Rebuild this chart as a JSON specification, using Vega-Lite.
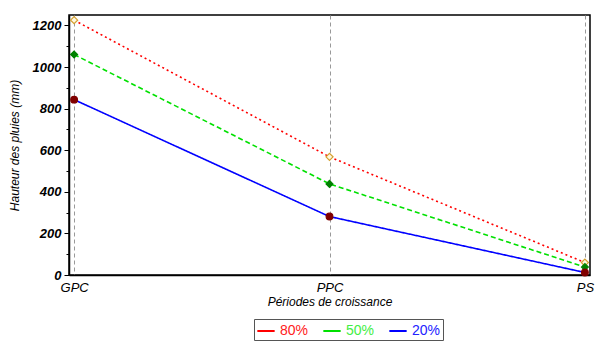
{
  "$schema": "https://vega.github.io/schema/vega-lite/v6.json",
  "width": 521,
  "height": 260,
  "padding": {"left": 8, "top": 14, "right": 17, "bottom": 5},
  "background": "white",
  "config": {
    "view": {"stroke": "black", "strokeWidth": 1.5},
    "font": "Liberation Sans"
  },
  "data": {
    "values": [
      {"periode": "GPC", "freq": "80%", "valeur": 1225},
      {"periode": "PPC", "freq": "80%", "valeur": 568},
      {"periode": "PS", "freq": "80%", "valeur": 60},
      {"periode": "GPC", "freq": "50%", "valeur": 1060},
      {"periode": "PPC", "freq": "50%", "valeur": 438},
      {"periode": "PS", "freq": "50%", "valeur": 38},
      {"periode": "GPC", "freq": "20%", "valeur": 843},
      {"periode": "PPC", "freq": "20%", "valeur": 281},
      {"periode": "PS", "freq": "20%", "valeur": 12}
    ]
  },
  "encoding": {
    "x": {
      "field": "periode",
      "type": "ordinal",
      "sort": ["GPC", "PPC", "PS"],
      "scale": {"type": "point", "padding": 0.02},
      "axis": {
        "title": "Périodes de croissance",
        "titleFontStyle": "italic",
        "titleFontWeight": "normal",
        "titleFontSize": 12,
        "titleColor": "black",
        "titlePadding": 2,
        "labelAngle": 0,
        "labelFontStyle": "italic",
        "labelFontSize": 13,
        "labelColor": "black",
        "labelPadding": 6,
        "domainColor": "black",
        "domainWidth": 1.5,
        "ticks": false,
        "grid": true,
        "gridDash": [4, 3],
        "gridColor": "#999999",
        "gridWidth": 1
      }
    },
    "y": {
      "field": "valeur",
      "type": "quantitative",
      "scale": {"domain": [0, 1250], "nice": false},
      "axis": {
        "title": "Hauteur des pluies (mm)",
        "titleFontStyle": "italic",
        "titleFontWeight": "normal",
        "titleFontSize": 12,
        "titleColor": "black",
        "titlePadding": 11,
        "values": [0, 100, 200, 300, 400, 500, 600, 700, 800, 900, 1000, 1100, 1200],
        "labelExpr": "datum.value % 200 == 0 ? format(datum.value, 'd') : ''",
        "labelFontStyle": "italic",
        "labelFontWeight": "bold",
        "labelFontSize": 13,
        "labelColor": "black",
        "labelPadding": 3,
        "domainColor": "black",
        "domainWidth": 1.5,
        "tickColor": "black",
        "tickSize": {"condition": {"test": "datum.value % 200 == 0", "value": 5}, "value": 3},
        "grid": false
      }
    }
  },
  "layer": [
    {
      "mark": {"type": "line", "strokeWidth": 1.6},
      "encoding": {
        "color": {
          "field": "freq",
          "type": "nominal",
          "scale": {"domain": ["80%", "50%", "20%"], "range": ["#ff0000", "#00e000", "#0000ff"]},
          "legend": {
            "title": null,
            "orient": "none",
            "legendX": 185,
            "legendY": 304,
            "direction": "horizontal",
            "strokeColor": "#555555",
            "padding": 2,
            "fillColor": "white",
            "symbolType": "stroke",
            "symbolSize": 300,
            "symbolStrokeWidth": 2,
            "labelFontSize": 14,
            "columnPadding": 10,
            "encode": {
              "labels": {
                "update": {
                  "fill": {"signal": "datum.value == '80%' ? '#ff2020' : datum.value == '50%' ? '#44ee44' : '#2222ff'"}
                }
              }
            }
          }
        },
        "strokeDash": {
          "field": "freq",
          "type": "nominal",
          "scale": {"domain": ["80%", "50%", "20%"], "range": [[2, 3], [5, 3], [1, 0]]},
          "legend": null
        }
      }
    },
    {
      "mark": {"type": "point", "filled": false, "strokeWidth": 1.2, "opacity": 1},
      "encoding": {
        "shape": {
          "field": "freq",
          "type": "nominal",
          "scale": {"domain": ["80%", "50%", "20%"], "range": ["diamond", "diamond", "circle"]},
          "legend": null
        },
        "stroke": {
          "field": "freq",
          "type": "nominal",
          "scale": {"domain": ["80%", "50%", "20%"], "range": ["#d4a030", "#008000", "#800000"]},
          "legend": null
        },
        "fill": {
          "field": "freq",
          "type": "nominal",
          "scale": {"domain": ["80%", "50%", "20%"], "range": ["#fff8e0", "#008000", "#800000"]},
          "legend": null
        },
        "size": {
          "field": "freq",
          "type": "nominal",
          "scale": {"domain": ["80%", "50%", "20%"], "range": [50, 45, 70]},
          "legend": null
        }
      }
    }
  ],
  "resolve": {"scale": {"color": "independent", "stroke": "independent", "fill": "independent"}}
}
